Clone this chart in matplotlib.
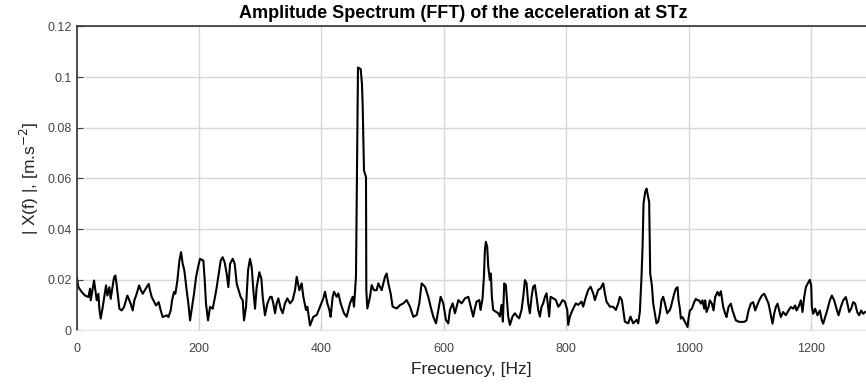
import matplotlib
matplotlib.use("Agg")
import matplotlib.pyplot as plt
import numpy as np

freq_a = [0, 2.7, 8.2, 13.6, 19.1, 21.8, 22.9, 28.3, 32.7, 35.4, 37.0, 39.2, 42.5, 47.9, 50.1,
          53.4, 55.5, 61.0, 63.2, 65.4, 69.7, 73.5, 77.3, 82.8, 86.1, 88.2, 91.5, 94.2, 98.0,
          101.9, 105.1, 107.8, 117.6, 119.8, 122.6, 129.6, 134.0, 137.3, 140.5, 147.1, 149.8,
          153.6, 155.8, 159.0, 161.2, 164.5, 167.8, 170.5, 173.2, 175.9, 179.7, 182.5, 185.2,
          188.5, 191.7, 195.0, 198.3, 201.5, 207.0, 209.2, 211.3, 214.6, 217.9, 222.2, 226.0,
          228.8, 232.0, 235.3, 238.6, 241.8, 245.1, 247.8, 250.6, 254.9, 258.2, 261.5, 264.7,
          268.0, 271.3, 273.4, 276.7, 280.0, 283.2, 286.0, 288.7, 291.4, 294.1, 298.5, 301.8,
          304.0, 307.7, 311.6, 315.9]
amp_a = [0.0210, 0.0171, 0.0152, 0.0138, 0.0132, 0.0165, 0.0119, 0.0197, 0.0119, 0.0145, 0.0086,
         0.0047, 0.0093, 0.0178, 0.0138, 0.0171, 0.0125, 0.0210, 0.0217, 0.0178, 0.0086, 0.0079,
         0.0093, 0.0138, 0.0119, 0.0106, 0.0079, 0.0119, 0.0145, 0.0178, 0.0158, 0.0145, 0.0184,
         0.0158, 0.0132, 0.0099, 0.0112, 0.0079, 0.0053, 0.0060, 0.0053, 0.0079, 0.0119, 0.0152,
         0.0145, 0.0197, 0.0276, 0.0309, 0.0263, 0.0237, 0.0158, 0.0106, 0.0040, 0.0093, 0.0145,
         0.0210, 0.0250, 0.0283, 0.0276, 0.0197, 0.0106, 0.0040, 0.0093, 0.0086, 0.0132, 0.0171,
         0.0224, 0.0276, 0.0289, 0.0269, 0.0224, 0.0171, 0.0263, 0.0283, 0.0263, 0.0184, 0.0158,
         0.0132, 0.0119, 0.0040, 0.0093, 0.0237, 0.0283, 0.0250, 0.0158, 0.0086, 0.0171, 0.0230,
         0.0204, 0.0132, 0.0060, 0.0106, 0.0132]

freq_b = [318.6, 321.3, 324.1, 326.8, 329.5, 333.3, 336.6, 340.4, 344.2, 348.6, 352.9, 356.8,
          359.5, 363.8, 367.6, 370.4, 374.7, 376.9, 381.3, 386.7, 392.2, 397.6, 403.1, 405.8,
          409.6, 412.9, 415.0, 418.3, 420.5, 424.8, 427.6, 431.4, 436.8, 441.2, 446.6, 451.0,
          453.2, 456.4, 459.7, 464.1, 466.2, 467.3, 469.5, 472.8, 473.3, 475.0, 479.3, 482.0,
          485.8, 490.2, 492.9, 498.4, 503.8, 506.5, 509.3, 513.1, 516.3, 522.9, 528.3, 533.8,
          539.2, 544.7, 550.1, 555.6, 559.9, 563.7, 569.2, 574.6, 578.4, 582.8, 587.2, 591.0,
          594.8, 599.1, 603.5, 607.3, 610.0, 614.4, 618.2, 623.7, 629.1, 634.6, 640.0]
amp_b = [0.0133, 0.0107, 0.0068, 0.0107, 0.0127, 0.0087, 0.0068, 0.0107, 0.0127, 0.0107, 0.0120,
         0.0159, 0.0212, 0.0159, 0.0186, 0.0133, 0.0081, 0.0094, 0.0020, 0.0054, 0.0061, 0.0094,
         0.0127, 0.0153, 0.0107, 0.0081, 0.0054, 0.0133, 0.0153, 0.0133, 0.0146, 0.0107, 0.0068,
         0.0054, 0.0107, 0.0133, 0.0094, 0.0212, 0.1038, 0.1032, 0.0973, 0.0894, 0.0632, 0.0605,
         0.0159, 0.0087, 0.0133, 0.0179, 0.0159, 0.0159, 0.0186, 0.0159, 0.0212, 0.0225, 0.0186,
         0.0146, 0.0094, 0.0087, 0.0100, 0.0107, 0.0120, 0.0094, 0.0054, 0.0061, 0.0107, 0.0186,
         0.0173, 0.0133, 0.0094, 0.0054, 0.0028, 0.0081, 0.0133, 0.0107, 0.0041, 0.0028, 0.0081,
         0.0107, 0.0068, 0.0120, 0.0107, 0.0127, 0.0133]

freq_c = [642.6, 645.3, 648.0, 650.8, 653.5, 657.9, 660.0, 663.3, 665.5, 667.1, 668.7, 670.9,
          672.6, 675.3, 676.9, 678.5, 680.7, 685.1, 688.9, 691.6, 694.3, 696.5, 698.7, 701.4,
          705.2, 708.0, 712.3, 716.1, 720.0, 723.2, 727.0, 729.8, 732.5, 735.2, 737.9, 740.6,
          743.4, 746.1, 748.8, 751.5, 754.3, 757.0, 759.7, 762.4, 765.2, 767.9, 772.2, 774.4,
          778.8, 783.1, 787.0, 789.7, 794.0, 797.8, 801.7, 803.3, 806.0, 810.4, 815.8, 819.6,
          825.1, 827.8, 832.2, 836.0, 839.8, 844.1, 846.9, 852.3, 856.1, 860.5, 863.2, 865.9,
          871.4, 876.8, 881.2, 885.0, 887.7, 891.0, 893.2, 895.9, 901.3, 905.1, 909.5, 915.0,
          917.7, 920.4, 923.1, 924.8, 926.4, 929.1, 931.3, 934.0, 935.6, 937.3, 940.0, 942.2,
          944.9, 947.6, 950.4, 953.1, 955.8, 958.5, 961.3, 965.1, 969.4]
amp_c = [0.0107, 0.0081, 0.0055, 0.0088, 0.0114, 0.0120, 0.0081, 0.0127, 0.0212, 0.0317, 0.0350,
         0.0330, 0.0252, 0.0199, 0.0225, 0.0133, 0.0081, 0.0074, 0.0068, 0.0055, 0.0101, 0.0035,
         0.0186, 0.0179, 0.0055, 0.0022, 0.0055, 0.0068, 0.0055, 0.0048, 0.0081, 0.0133, 0.0199,
         0.0186, 0.0107, 0.0068, 0.0133, 0.0173, 0.0179, 0.0133, 0.0081, 0.0055, 0.0094, 0.0107,
         0.0133, 0.0147, 0.0055, 0.0133, 0.0127, 0.0120, 0.0094, 0.0101, 0.0120, 0.0114, 0.0081,
         0.0022, 0.0055, 0.0081, 0.0107, 0.0101, 0.0114, 0.0094, 0.0133, 0.0160, 0.0173, 0.0147,
         0.0120, 0.0160, 0.0166, 0.0186, 0.0147, 0.0114, 0.0094, 0.0094, 0.0081, 0.0107, 0.0133,
         0.0120, 0.0081, 0.0035, 0.0028, 0.0055, 0.0028, 0.0042, 0.0028, 0.0074, 0.0212, 0.0330,
         0.0501, 0.0547, 0.0560, 0.0527, 0.0507, 0.0225, 0.0179, 0.0107, 0.0068, 0.0028, 0.0035,
         0.0068, 0.0120, 0.0133, 0.0107, 0.0068, 0.0081]

freq_d = [971.1, 973.8, 976.5, 979.2, 982.0, 983.6, 985.8, 987.4, 990.1, 992.9, 995.6, 998.3,
          999.9, 1002.1, 1005.4, 1009.2, 1011.9, 1014.6, 1017.4, 1020.1, 1022.8, 1025.5, 1027.2,
          1029.4, 1032.6, 1034.8, 1038.1, 1040.8, 1043.5, 1047.3, 1050.1, 1052.8, 1056.6, 1059.9,
          1062.0, 1065.3, 1069.1, 1071.8, 1077.3, 1082.7, 1090.9, 1094.7, 1098.0, 1101.8, 1105.6,
          1108.9, 1112.2, 1115.4, 1119.8, 1123.6, 1127.4, 1130.7, 1134.5, 1137.2, 1139.9, 1142.7,
          1145.4, 1148.1, 1150.8, 1154.6, 1159.0, 1163.3, 1167.2, 1171.0, 1174.2, 1176.4, 1179.7,
          1183.5, 1186.2, 1189.0, 1191.7, 1196.0, 1198.2, 1200.4, 1201.5, 1203.7, 1206.9, 1210.7,
          1214.6, 1217.8, 1220.0, 1223.3, 1226.5, 1230.9, 1234.2, 1238.0, 1241.8, 1245.1, 1248.9,
          1252.7, 1257.0, 1260.3, 1262.5, 1265.8, 1269.0, 1272.3, 1275.6, 1278.8, 1282.1, 1285.4,
          1288.6]
amp_d = [0.0093, 0.0119, 0.0145, 0.0165, 0.0171, 0.0119, 0.0086, 0.0047, 0.0053, 0.0040, 0.0027,
         0.0014, 0.0047, 0.0079, 0.0086, 0.0112, 0.0125, 0.0119, 0.0119, 0.0106, 0.0119, 0.0086,
         0.0119, 0.0073, 0.0093, 0.0119, 0.0106, 0.0079, 0.0132, 0.0152, 0.0138, 0.0155, 0.0093,
         0.0066, 0.0053, 0.0093, 0.0106, 0.0079, 0.0040, 0.0034, 0.0034, 0.0040, 0.0079, 0.0106,
         0.0112, 0.0079, 0.0099, 0.0119, 0.0138, 0.0145, 0.0125, 0.0106, 0.0060, 0.0027, 0.0066,
         0.0093, 0.0106, 0.0079, 0.0053, 0.0073, 0.0060, 0.0079, 0.0093, 0.0086, 0.0099, 0.0079,
         0.0093, 0.0119, 0.0073, 0.0132, 0.0171, 0.0191, 0.0200, 0.0178, 0.0093, 0.0066, 0.0086,
         0.0060, 0.0079, 0.0040, 0.0027, 0.0053, 0.0079, 0.0119, 0.0138, 0.0119, 0.0086, 0.0060,
         0.0093, 0.0119, 0.0132, 0.0099, 0.0073, 0.0086, 0.0112, 0.0106, 0.0073, 0.0060, 0.0079,
         0.0066, 0.0073]

x_ticks = [0, 200, 400, 600, 800, 1000, 1200]
y_ticks = [0, 0.02, 0.04, 0.06, 0.08, 0.1, 0.12]
y_ticklabels = ['0', '0.02', '0.04', '0.06', '0.08', '0.1', '0.12']

frecuencia = np.concatenate([freq_a, freq_b, freq_c, freq_d])
amplitud = np.concatenate([amp_a, amp_b, amp_c, amp_d])

plt.rcParams['font.family'] = ['Liberation Sans', 'DejaVu Sans']

fig = plt.figure(figsize=(8.66, 3.86), dpi=100)
ax = fig.add_axes([0.0886, 0.1438, 0.9114, 0.7876])

ax.plot(frecuencia, amplitud, color='black', linewidth=1.5)

ax.set_xlim(0, 1290)
ax.set_ylim(0, 0.12)
ax.set_xticks(x_ticks)
ax.set_yticks(y_ticks)
ax.set_yticklabels(y_ticklabels)
ax.grid(True, color='#dcd6d6', linewidth=1.0)
ax.set_axisbelow(True)

ax.tick_params(axis='both', direction='in', labelsize=9, colors='#444444', length=4)
ax.tick_params(axis='x', pad=9, color='#cccccc')
for lado in ['left', 'top']:
    ax.spines[lado].set_color('#333333')
    ax.spines[lado].set_linewidth(1.2)
ax.spines['bottom'].set_color('#e6e6e6')
ax.spines['right'].set_visible(False)

ax.set_title('Amplitude Spectrum (FFT) of the acceleration at STz', fontsize=13,
             fontweight='bold', pad=6, x=0.49)
ax.set_xlabel('Frecuency, [Hz]', fontsize=12.5, color='#222222', labelpad=5)
ax.set_ylabel('| X(f) |, [m.s$^{-2}$]', fontsize=12.5, color='#222222', labelpad=5)

fig.savefig('out.png', dpi=100)
